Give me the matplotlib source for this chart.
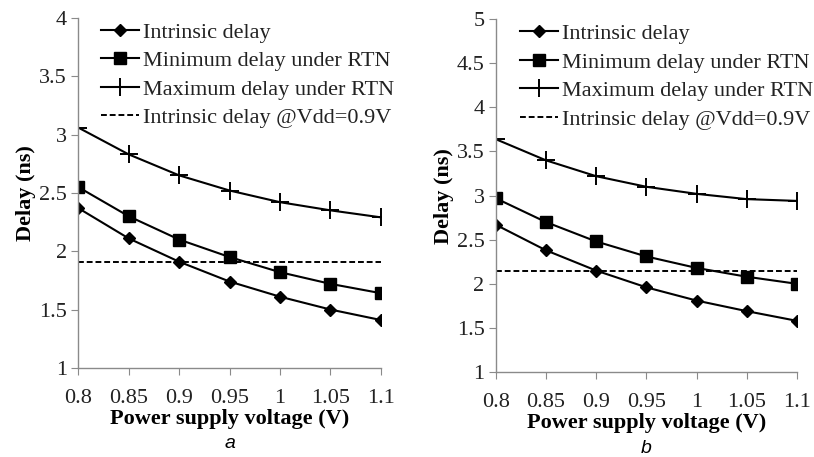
import matplotlib.pyplot as plt
import numpy as np

plt.rcParams['font.family'] = ['Liberation Serif', 'DejaVu Serif']

voltage = [0.8, 0.85, 0.9, 0.95, 1.0, 1.05, 1.1]
xtick_labels = ['0.8', '0.85', '0.9', '0.95', '1', '1.05', '1.1']

# panel a
a_intrinsic = [2.37, 2.11, 1.91, 1.74, 1.61, 1.50, 1.41]
a_min_rtn = [2.55, 2.30, 2.10, 1.95, 1.82, 1.72, 1.64]
a_max_rtn = [3.06, 2.83, 2.65, 2.52, 2.42, 2.35, 2.29]
a_ref = 1.91

# panel b
b_intrinsic = [2.67, 2.38, 2.15, 1.96, 1.81, 1.69, 1.58]
b_min_rtn = [2.97, 2.70, 2.48, 2.31, 2.18, 2.08, 2.00]
b_max_rtn = [3.64, 3.40, 3.22, 3.10, 3.02, 2.96, 2.94]
b_ref = 2.15

labels = ['Intrinsic delay', 'Minimum delay under RTN',
          'Maximum delay under RTN', 'Intrinsic delay @Vdd=0.9V']

fig = plt.figure(figsize=(8.14, 4.57), dpi=100)
ax_a = fig.add_axes([0.096, 0.195, 0.372, 0.766])
ax_b = fig.add_axes([0.609, 0.186, 0.370, 0.772])


def draw(ax, intr, mn, mx, ref, ymax, yticks, tag, legx):
    ax.plot(voltage, intr, color='black', lw=1.5, marker='D', ms=6.5, label=labels[0])
    ax.plot(voltage, mn, color='black', lw=1.5, marker='s', ms=9, label=labels[1])
    ax.plot(voltage, mx, color='black', lw=1.5, marker='+', ms=13, mew=1.4, label=labels[2])
    ax.plot([voltage[0], voltage[-1]], [ref, ref], color='black', lw=1.4,
            ls=(0, (3, 1.5)), label=labels[3])
    ax.set_xlim(0.8, 1.1)
    ax.set_ylim(1, ymax)
    ax.set_xticks(voltage)
    ax.set_xticklabels(xtick_labels)
    ax.set_yticks(yticks)
    ax.set_yticklabels([('%g' % t) for t in yticks])
    for s in ['top', 'right']:
        ax.spines[s].set_visible(False)
    for s in ['left', 'bottom']:
        ax.spines[s].set_color('#8a8a8a')
        ax.spines[s].set_linewidth(1.0)
    ax.tick_params(axis='both', colors='#8a8a8a', labelcolor='#222222',
                   labelsize=16, length=5, direction='out')
    ax.tick_params(axis='x', pad=10)
    ax.tick_params(axis='y', pad=3)
    ax.set_xlabel('Power supply voltage (V)', fontsize=16, fontweight='bold',
                  labelpad=1)
    ax.set_ylabel('Delay (ns)', fontsize=16, fontweight='bold', labelpad=2)
    leg = ax.legend(loc='upper left', bbox_to_anchor=(legx, 0.988), frameon=False,
                    fontsize=16, handlelength=1.7, handletextpad=0.2,
                    labelspacing=0.36, borderaxespad=0, borderpad=0)
    for t in leg.get_texts():
        t.set_color('#222222')
    ax.text(0.5, -0.193, tag, transform=ax.transAxes, ha='center', va='top',
            fontsize=14, style='italic', family='Liberation Sans')


draw(ax_a, a_intrinsic, a_min_rtn, a_max_rtn, a_ref, 4,
     [1, 1.5, 2, 2.5, 3, 3.5, 4], 'a', 0.076)
draw(ax_b, b_intrinsic, b_min_rtn, b_max_rtn, b_ref, 5,
     [1, 1.5, 2, 2.5, 3, 3.5, 4, 4.5, 5], 'b', 0.08)

fig.savefig('out.png', dpi=100)
